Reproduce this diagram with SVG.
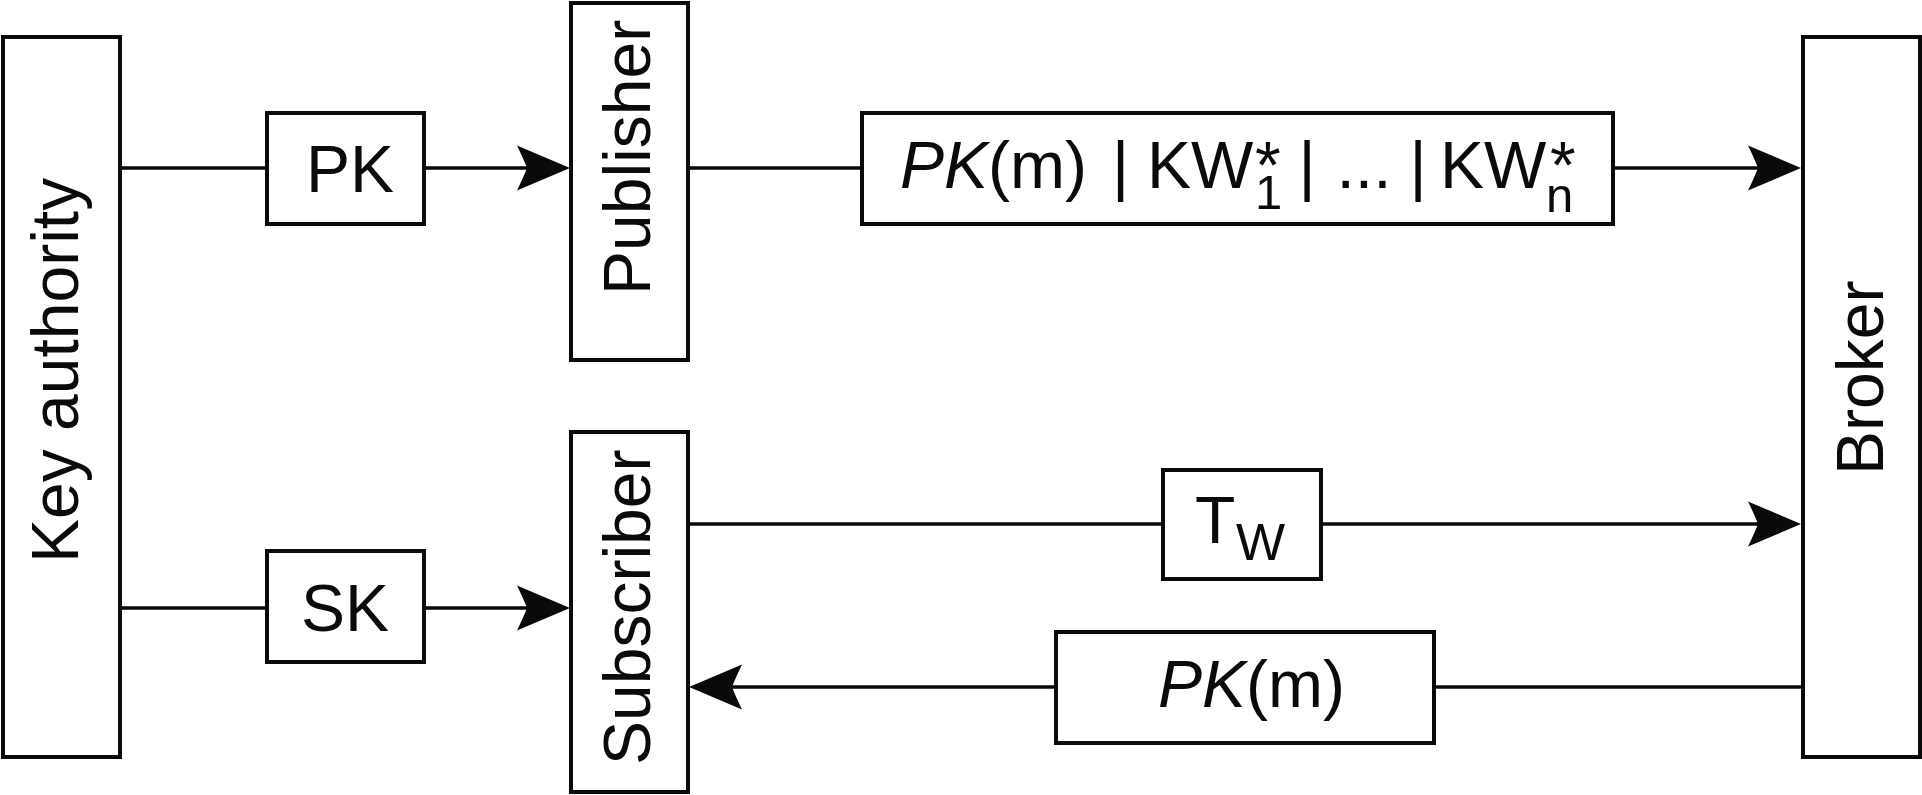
<svg xmlns="http://www.w3.org/2000/svg" width="1922" height="795" viewBox="0 0 1922 795">
<style>
.box{fill:#fff;stroke:#0a0a0a;stroke-width:4}
.ln{fill:none;stroke:#0a0a0a;stroke-width:3.5}
.t{font-family:"Liberation Sans",Arial,Helvetica,sans-serif;font-size:66px;fill:#0a0a0a}
.i{font-style:italic}
.sub{font-size:49px}
</style>
<defs>
<marker id="arr" viewBox="-56 -25 60 50" markerWidth="60" markerHeight="50" refX="-43" refY="0" orient="auto" markerUnits="userSpaceOnUse">
<path d="M0,0 L-53,-22.5 Q-46,-8 -43,0 Q-46,8 -53,22.5 Z" fill="#0a0a0a"/>
</marker>
</defs>
<rect width="1922" height="795" fill="#fff"/>
<g id="connectors">
<line class="ln" x1="120" y1="168" x2="267" y2="168"/>
<line class="ln" x1="424" y1="168" x2="527" y2="168" marker-end="url(#arr)"/>
<line class="ln" x1="120" y1="608" x2="267" y2="608"/>
<line class="ln" x1="424" y1="608" x2="527" y2="608" marker-end="url(#arr)"/>
<line class="ln" x1="688" y1="168" x2="862" y2="168"/>
<line class="ln" x1="1613" y1="168" x2="1758" y2="168" marker-end="url(#arr)"/>
<line class="ln" x1="688" y1="524" x2="1163" y2="524"/>
<line class="ln" x1="1321" y1="524" x2="1758" y2="524" marker-end="url(#arr)"/>
<line class="ln" x1="1802" y1="687" x2="1434" y2="687"/>
<line class="ln" x1="1056" y1="687" x2="732" y2="687" marker-end="url(#arr)"/>
</g>
<g id="key-authority">
<rect class="box" x="3" y="37" width="117" height="720"/>
<text class="t" transform="translate(78,563) rotate(-90)">Key authority</text>
</g>
<g id="publisher">
<rect class="box" x="571" y="3" width="117" height="357"/>
<text class="t" transform="translate(650,295) rotate(-90)">Publisher</text>
</g>
<g id="subscriber">
<rect class="box" x="571" y="432" width="117" height="360"/>
<text class="t" transform="translate(650,765) rotate(-90)">Subscriber</text>
</g>
<g id="broker">
<rect class="box" x="1803" y="37" width="117" height="720"/>
<text class="t" transform="translate(1883,475) rotate(-90)">Broker</text>
</g>
<g id="pk">
<rect class="box" x="267" y="113" width="157" height="111"/>
<text class="t" x="350" y="192" text-anchor="middle">PK</text>
</g>
<g id="sk">
<rect class="box" x="267" y="551" width="157" height="111"/>
<text class="t" x="345" y="631" text-anchor="middle">SK</text>
</g>
<g id="encrypted-message">
<rect class="box" x="862" y="113" width="751" height="111"/>
<text class="t" y="188"><tspan x="900" class="i">PK</tspan><tspan x="988">(m)</tspan><tspan x="1112">|</tspan><tspan x="1147">KW</tspan><tspan x="1255">*</tspan><tspan x="1298.5">|</tspan><tspan x="1336.5">...</tspan><tspan x="1409.5">|</tspan><tspan x="1440">KW</tspan><tspan x="1550">*</tspan></text>
<text class="t sub"><tspan x="1255" y="209">1</tspan><tspan x="1546" y="212">n</tspan></text>
</g>
<g id="trapdoor">
<rect class="box" x="1163" y="470" width="158" height="109"/>
<text class="t" x="1195" y="543">T<tspan x="1236" y="560" style="font-size:52px">W</tspan></text>
</g>
<g id="pk-m">
<rect class="box" x="1056" y="632" width="378" height="111"/>
<text class="t" y="707"><tspan x="1158" class="i">PK</tspan><tspan>(m)</tspan></text>
</g>
</svg>
